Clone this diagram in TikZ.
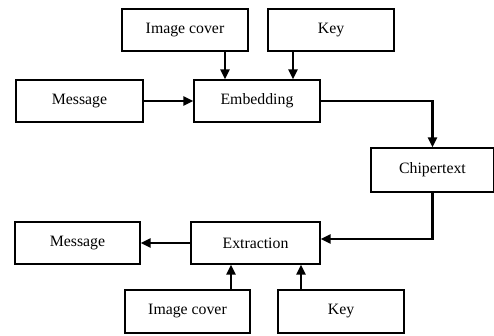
\documentclass[tikz,border=0pt]{standalone}
\usepackage{fontspec}
\setmainfont{Liberation Serif}
\usetikzlibrary{arrows.meta,calc}
\begin{document}
\begin{tikzpicture}[x=1pt,y=-1pt,
  box/.style={draw,line width=1.2pt,minimum width=126pt,minimum height=42pt,inner sep=0pt,font=\fontsize{15.8}{18}\selectfont},
  arr/.style={line width=2.2pt,-{Stealth[length=10pt,width=9pt,inset=0pt]}}]
\useasboundingbox (0,0) rectangle (494,336);
\node[box] (ic1) at (185,30) {Image cover};
\node[box] (key1) at (331,30) {Key};
\node[box,minimum width=127pt] (msg1) at (79.5,101) {Message};
\node[box] (emb) at (257,101) {Embedding};
\node[box,minimum width=123pt,minimum height=44pt] (chip) at (432.5,170) {Chipertext};
\node[box,minimum width=129pt] (ext) at (255.5,243) {Extraction};
\node[box,minimum width=125pt] (msg2) at (77.5,243) {Message};
\node[box,minimum width=125pt,minimum height=43pt] (ic2) at (187.5,311.5) {Image cover};
\node[box,minimum height=43pt] (key2) at (341,311.5) {Key};
\draw[arr] ([xshift=40pt]ic1.south) -- ([xshift=40pt]ic1.south |- emb.north);
\draw[arr] ([xshift=-38pt]key1.south) -- ([xshift=-38pt]key1.south |- emb.north);
\draw[arr] (msg1.east) -- (emb.west);
\draw[arr] (emb.east) -| (chip.north);
\draw[arr] (chip.south) |- ([yshift=4pt]ext.east);
\draw[arr] (ext.west) -- (msg2.east);
\draw[arr] ([xshift=43.5pt]ic2.north) -- ([xshift=43.5pt]ic2.north |- ext.south);
\draw[arr] ([xshift=-40pt]key2.north) -- ([xshift=-40pt]key2.north |- ext.south);
\end{tikzpicture}
\end{document}
